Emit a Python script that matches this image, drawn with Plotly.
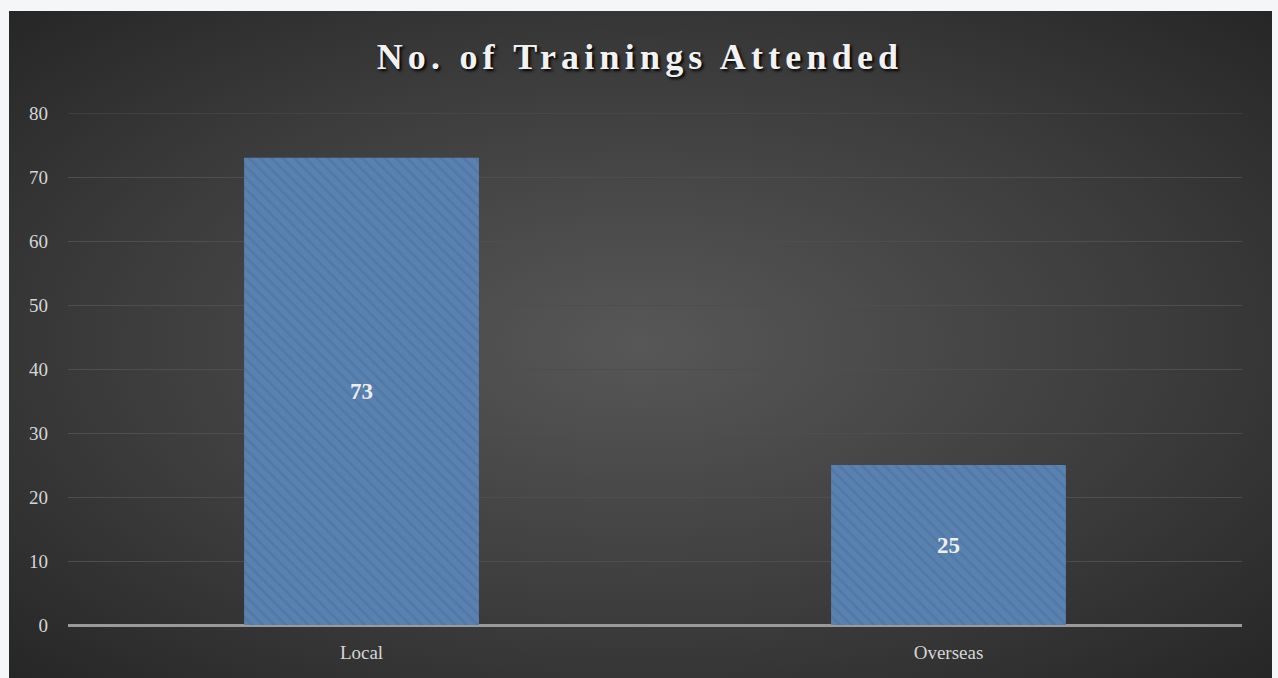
import plotly.graph_objects as go
import base64

categories = ["Local", "Overseas"]
values = [73, 25]
y_ticks = [0, 10, 20, 30, 40, 50, 60, 70, 80]

W, H = 1278, 678
L, R, T, B = 68, 36, 113, 53
pw, ph = W - L - R, H - T - B

svg = """<svg xmlns='http://www.w3.org/2000/svg' width='1263' height='667' viewBox='0 0 1263 667' preserveAspectRatio='none'>
<defs><radialGradient id='g' cx='0.5' cy='0.5' r='0.75' fx='0.5' fy='0.5'>
<stop offset='0' stop-color='#575757'/><stop offset='0.55' stop-color='#3c3c3c'/><stop offset='1' stop-color='#232323'/>
</radialGradient></defs>
<rect width='1263' height='667' fill='url(#g)'/></svg>"""
src = "data:image/svg+xml;base64," + base64.b64encode(svg.encode()).decode()

SERIF = "Garamond, 'Liberation Serif', serif"

fig = go.Figure()
fig.add_trace(go.Bar(
    x=categories, y=values, width=0.4,
    marker=dict(color="#5a82b1", line=dict(width=0),
                pattern=dict(shape="\\", fgcolor="#4a6f9c", bgcolor="#5a82b1",
                             size=8, solidity=0.35, fgopacity=0.55)),
    text=[str(v) for v in values], textposition="inside", insidetextanchor="middle",
    textfont=dict(family=SERIF, size=23, color="#eeeeee", weight="bold"),
    hoverinfo="skip",
))

fig.update_layout(
    width=W, height=H,
    margin=dict(l=L, r=R, t=T, b=B, pad=0),
    paper_bgcolor="#f4f6f7", plot_bgcolor="rgba(0,0,0,0)",
    showlegend=False,
    title=dict(text="No. of Trainings Attended", x=640 / W, xanchor="center",
               y=1 - 56 / H, yanchor="middle",
               font=dict(family=SERIF, size=36, color="#f2f2f2",
                         weight="bold", shadow="2px 2px 3px #000000")),
    images=[dict(source=src, xref="paper", yref="paper",
                 x=(9 - L) / pw, y=(H - B - 11) / ph, sizex=1263 / pw, sizey=667 / ph,
                 xanchor="left", yanchor="top", sizing="stretch", layer="below")],
    shapes=[dict(type="line", xref="paper", yref="y", x0=0, x1=1,
                 y0=y_ticks[-1], y1=y_ticks[-1], line=dict(color="#4e4e4e", width=1), layer="below")],
    font=dict(family=SERIF, color="#d6d6d6", size=19),
)
fig.update_xaxes(showgrid=False, showline=False, ticks="", tickfont=dict(size=19, color="#d6d6d6"),
                 ticklabelstandoff=14)
fig.update_yaxes(range=[0, 80], tickvals=y_ticks, showgrid=True, gridcolor="#4e4e4e", gridwidth=1,
                 zeroline=True, zerolinecolor="#9a9a9a", zerolinewidth=3, showline=False,
                 ticks="", tickfont=dict(size=19, color="#d6d6d6"), ticklabelstandoff=19)

post = ("document.body.style.margin='0';"
        "document.head.insertAdjacentHTML('beforeend','<style>.gtitle{letter-spacing:5.2px}</style>');")
fig.write_html("out.html", post_script=post, config={"displayModeBar": False})
